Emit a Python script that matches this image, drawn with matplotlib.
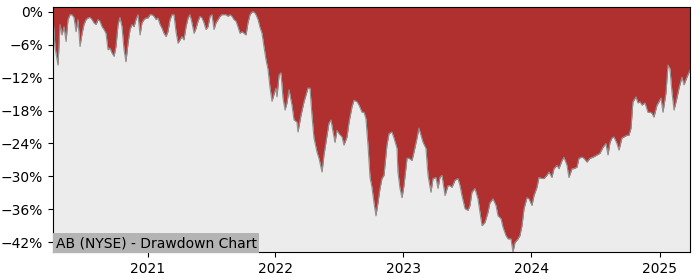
import numpy as np
import pandas as pd
import matplotlib
matplotlib.use("Agg")
import matplotlib.pyplot as plt
import matplotlib.ticker as mticker

# === Data (time as fractional year, drawdown in %) ===
year_frac = [
    2020.263, 2020.279, 2020.302, 2020.318, 2020.333, 2020.349, 2020.365, 2020.380,
    2020.396, 2020.411, 2020.427, 2020.443, 2020.458, 2020.474, 2020.490, 2020.505,
    2020.521, 2020.536, 2020.552, 2020.568, 2020.583, 2020.599, 2020.615, 2020.630,
    2020.646, 2020.661, 2020.677, 2020.693, 2020.708, 2020.724, 2020.740, 2020.755,
    2020.771, 2020.786, 2020.802, 2020.818, 2020.833, 2020.849, 2020.865, 2020.880,
    2020.896, 2020.911, 2020.927, 2020.943, 2020.958, 2020.974, 2020.990, 2021.005,
    2021.021, 2021.036, 2021.052, 2021.068, 2021.083, 2021.099, 2021.115, 2021.130,
    2021.146, 2021.161, 2021.177, 2021.193, 2021.208, 2021.224, 2021.240, 2021.255,
    2021.271, 2021.286, 2021.302, 2021.318, 2021.333, 2021.349, 2021.365, 2021.380,
    2021.396, 2021.411, 2021.427, 2021.443, 2021.458, 2021.474, 2021.490, 2021.505,
    2021.521, 2021.536, 2021.552, 2021.568, 2021.583, 2021.599, 2021.615, 2021.630,
    2021.646, 2021.661, 2021.677, 2021.693, 2021.708, 2021.724, 2021.740, 2021.755,
    2021.771, 2021.786, 2021.802, 2021.818, 2021.833, 2021.849, 2021.865, 2021.880,
    2021.896, 2021.911, 2021.927, 2021.943, 2021.958, 2021.974, 2021.990, 2022.005,
    2022.013, 2022.029, 2022.044, 2022.060, 2022.076, 2022.091, 2022.107, 2022.130,
    2022.146, 2022.169, 2022.177, 2022.201, 2022.224, 2022.255, 2022.271, 2022.286,
    2022.302, 2022.326, 2022.341, 2022.365, 2022.380, 2022.404, 2022.419, 2022.435,
    2022.451, 2022.466, 2022.482, 2022.497, 2022.521, 2022.536, 2022.560, 2022.576,
    2022.599, 2022.615, 2022.638, 2022.654, 2022.677, 2022.693, 2022.708, 2022.724,
    2022.740, 2022.755, 2022.771, 2022.786, 2022.802, 2022.818, 2022.833, 2022.849,
    2022.872, 2022.888, 2022.911, 2022.927, 2022.951, 2022.958, 2022.974, 2022.990,
    2023.005, 2023.029, 2023.044, 2023.068, 2023.083, 2023.107, 2023.122, 2023.138,
    2023.154, 2023.177, 2023.193, 2023.216, 2023.232, 2023.255, 2023.271, 2023.286,
    2023.302, 2023.326, 2023.349, 2023.365, 2023.380, 2023.404, 2023.427, 2023.443,
    2023.458, 2023.482, 2023.505, 2023.521, 2023.536, 2023.560, 2023.583, 2023.599,
    2023.615, 2023.638, 2023.661, 2023.677, 2023.701, 2023.724, 2023.740, 2023.763,
    2023.779, 2023.802, 2023.818, 2023.841, 2023.857, 2023.872, 2023.896, 2023.911,
    2023.927, 2023.943, 2023.966, 2023.982, 2024.005, 2024.021, 2024.044, 2024.060,
    2024.083, 2024.099, 2024.122, 2024.138, 2024.161, 2024.177, 2024.201, 2024.216,
    2024.240, 2024.255, 2024.279, 2024.294, 2024.318, 2024.333, 2024.357, 2024.372,
    2024.396, 2024.411, 2024.435, 2024.458, 2024.482, 2024.513, 2024.536, 2024.560,
    2024.583, 2024.599, 2024.615, 2024.630, 2024.646, 2024.669, 2024.685, 2024.708,
    2024.724, 2024.747, 2024.763, 2024.779, 2024.794, 2024.818, 2024.833, 2024.849,
    2024.865, 2024.888, 2024.911, 2024.927, 2024.943, 2024.958, 2024.982, 2024.997,
    2025.013, 2025.029, 2025.052, 2025.068, 2025.083, 2025.099, 2025.115, 2025.138,
    2025.154, 2025.177, 2025.193, 2025.216, 2025.240,
]

drawdown_pct = [
    -1.0, -6.5, -9.7, -2.3, -4.2, -2.7, -5.4, -1.4,
    -0.5, -0.5, -1.0, -3.6, -1.4, -6.3, -3.9, -2.3,
    -1.4, -1.1, -1.0, -1.4, -2.0, -2.3, -1.4, -1.7,
    -2.7, -3.2, -3.9, -6.9, -6.6, -7.5, -8.1, -6.3,
    -2.3, -1.0, -2.7, -6.9, -9.1, -5.7, -3.2, -2.3,
    -2.7, -1.4, -0.5, -4.2, -2.0, -1.4, -1.1, -1.1,
    -0.5, -0.5, -0.8, -1.4, -1.1, -2.3, -3.0, -3.9,
    -4.5, -3.6, -1.4, -0.5, -0.5, -3.6, -5.7, -5.1,
    -4.5, -5.1, -2.7, -1.1, -0.5, -2.0, -3.9, -3.0,
    -1.7, -0.8, -1.1, -2.0, -3.2, -2.7, -0.8, -0.5,
    -3.2, -2.0, -1.4, -0.8, -0.5, -0.5, -0.5, -0.8,
    -0.5, -0.8, -1.4, -1.7, -2.7, -3.9, -3.6, -3.9,
    -4.2, -2.0, -0.5, 0.0, 0.0, -0.5, -1.4, -2.8,
    -3.9, -6.3, -8.7, -10.5, -13.7, -16.3, -15.0, -13.9,
    -15.5, -11.5, -11.1, -15.7, -17.9, -16.6, -14.2, -17.0,
    -19.7, -20.1, -21.9, -18.8, -16.4, -13.9, -13.9, -18.8,
    -23.0, -25.6, -26.7, -29.2, -26.1, -22.5, -20.3, -19.7,
    -21.9, -23.8, -21.6, -22.2, -22.8, -24.3, -22.8, -20.1,
    -17.3, -16.1, -16.4, -17.0, -18.3, -18.3, -19.5, -24.3,
    -30.2, -32.0, -34.8, -37.2, -34.8, -32.2, -30.4, -29.8,
    -24.3, -22.2, -21.9, -23.0, -24.9, -29.2, -32.2, -33.9,
    -31.7, -26.7, -26.7, -27.1, -25.6, -23.0, -21.2, -22.5,
    -23.8, -24.9, -29.8, -32.9, -30.4, -30.2, -32.2, -30.2,
    -29.8, -33.5, -31.7, -31.7, -32.0, -30.7, -30.4, -31.7,
    -33.5, -35.9, -36.2, -35.3, -32.9, -32.2, -34.1, -36.6,
    -39.0, -38.4, -36.6, -34.8, -34.1, -35.3, -37.2, -37.7,
    -39.3, -40.8, -41.4, -41.4, -43.8, -42.1, -41.4, -40.8,
    -39.0, -35.9, -33.9, -34.1, -35.3, -33.5, -32.0, -30.2,
    -30.4, -30.4, -29.8, -29.2, -30.2, -28.6, -28.0, -28.6,
    -27.1, -26.5, -28.0, -30.2, -28.6, -28.6, -28.3, -26.7,
    -26.5, -26.7, -27.4, -26.7, -26.5, -26.1, -25.8, -24.7,
    -24.0, -26.1, -23.8, -23.0, -22.8, -24.0, -25.2, -23.0,
    -22.8, -22.5, -22.5, -21.2, -16.4, -15.5, -16.6, -16.4,
    -17.0, -16.6, -18.3, -18.3, -18.5, -19.2, -17.0, -16.4,
    -15.7, -18.3, -14.8, -9.7, -10.3, -14.6, -17.9, -15.7,
    -13.9, -11.9, -13.3, -11.9, -10.6,
]

y_ticks = [0, -6, -12, -18, -24, -30, -36, -42]
chart_label = "AB (NYSE) - Drawdown Chart"

# === Convert fractional years to dates ===
yf = np.array(year_frac)
dates = pd.Timestamp("2020-01-01") + pd.to_timedelta((yf - 2020) * 365.25, unit="D")
dd = np.array(drawdown_pct)

# === Plot ===
fig = plt.figure(figsize=(7, 2.8), dpi=100)
ax = fig.add_axes([0.0757, 0.1, 0.91, 0.875])
ax.set_facecolor("#ececec")

y_top = 0.9
# red area fills from the curve up to the top of the axes
ax.fill_between(dates, dd, y_top + 1, color="#b03030", linewidth=0)
ax.plot(dates, dd, color="#909090", linewidth=0.8)

ax.set_xlim(dates[0], dates[-1])
ax.set_ylim(dd.min(), y_top)
ax.set_yticks(y_ticks)
ax.yaxis.set_major_formatter(
    mticker.FuncFormatter(lambda v, p: f"{int(v)}%".replace("-", "\u2212")))

years = pd.to_datetime(["2021-01-01", "2022-01-01", "2023-01-01", "2024-01-01", "2025-01-01"])
ax.set_xticks(years)
ax.set_xticklabels([str(d.year) for d in years])
ax.tick_params(labelsize=10)

ax.text(0.004, 0.008, chart_label, transform=ax.transAxes, fontsize=10,
        ha="left", va="bottom",
        bbox=dict(facecolor="#b4b4b4", edgecolor="none", pad=2))

plt.savefig("out.png", dpi=100)
